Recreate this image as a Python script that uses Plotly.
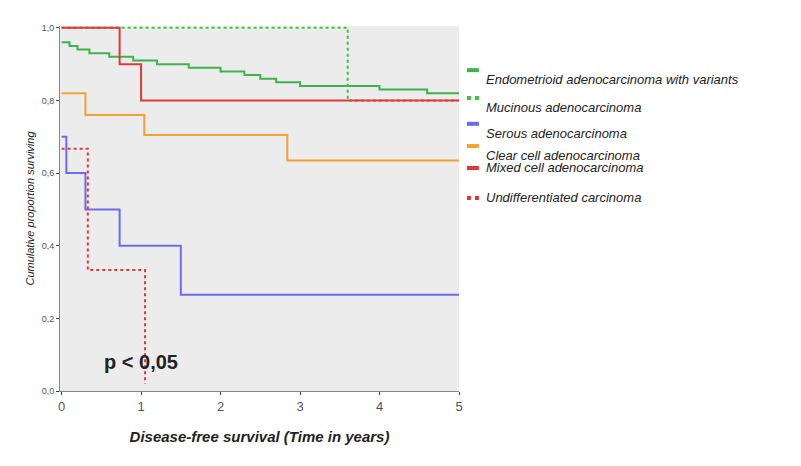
import plotly.graph_objects as go

# Kaplan-Meier step curves (time in years, survival proportion)
endo_t = [0, 0.1, 0.2, 0.35, 0.6, 0.9, 1.2, 1.6, 2.0, 2.3, 2.5, 2.7, 3.0, 4.0, 4.6, 5.0]
endo_s = [0.96, 0.95, 0.94, 0.93, 0.92, 0.91, 0.90, 0.89, 0.88, 0.87, 0.86, 0.85, 0.84, 0.83, 0.82, 0.82]
muc_t = [0, 3.6, 5.0]
muc_s = [1.0, 0.8, 0.8]
serous_t = [0, 0.06, 0.3, 0.73, 1.5, 5.0]
serous_s = [0.70, 0.60, 0.50, 0.40, 0.265, 0.265]
clear_t = [0, 0.3, 1.04, 2.84, 5.0]
clear_s = [0.82, 0.76, 0.705, 0.635, 0.635]
mixed_t = [0, 0.73, 1.0, 5.0]
mixed_s = [1.0, 0.9, 0.8, 0.8]
undiff_t = [0, 0.33, 1.05, 1.05]
undiff_s = [0.667, 0.333, 0.02, 0.02]

names = ["Endometrioid adenocarcinoma with variants", "Mucinous adenocarcinoma",
         "Serous adenocarcinoma", "Clear cell adenocarcinoma",
         "Mixed cell adenocarcinoma", "Undifferentiated carcinoma"]
colors = ["#3cb44b", "#3cc43c", "#6b6bf0", "#f5a030", "#e03838", "#e03838"]
dashes = ["solid", "dot", "solid", "solid", "solid", "dot"]
series = [(endo_t, endo_s), (muc_t, muc_s), (serous_t, serous_s),
          (clear_t, clear_s), (mixed_t, mixed_s), (undiff_t, undiff_s)]

fig = go.Figure()
for (t, s), c, d in zip(series, colors, dashes):
    fig.add_trace(go.Scatter(x=t, y=s, mode="lines", line=dict(color=c, width=2, dash=d, shape="hv"),
                             showlegend=False))

# legend drawn manually
leg_y = [0.879, 0.803, 0.732, 0.671, 0.611, 0.529]
for n, c, d, y in zip(names, colors, dashes, leg_y):
    fig.add_shape(type="line", xref="paper", yref="paper", x0=1.02, x1=1.05, y0=y, y1=y,
                  line=dict(color=c, width=4, dash=d))
    fig.add_annotation(text="<i>" + n + "</i>", xref="paper", yref="paper", x=1.063, y=y,
                       xanchor="left", showarrow=False,
                       font=dict(size=13, color="#222", family="Liberation Sans"))

fig.add_annotation(text="<b>p < 0,05</b>", x=1.0, y=0.08, showarrow=False,
                   font=dict(size=20, color="#222", family="Liberation Sans"))

fig.update_layout(
    width=801, height=466, separators=",.",
    margin=dict(l=52, r=350, t=18, b=83),
    plot_bgcolor="#ececec", paper_bgcolor="white",
    xaxis=dict(range=[-0.02, 5.0], tickvals=[0, 1, 2, 3, 4, 5], showgrid=False, zeroline=False,
               showline=True, linecolor="#888", ticks="outside", ticklen=3,
               tickfont=dict(size=13, color="#555", family="Liberation Sans"),
               title=dict(text="<b><i>Disease-free survival (Time in years)</i></b>",
                          font=dict(size=15, color="#222", family="Liberation Sans"), standoff=18)),
    yaxis=dict(range=[0, 1.005], tickvals=[0, 0.2, 0.4, 0.6, 0.8, 1.0], tickformat=".1f",
               showgrid=False, zeroline=False, showline=True, linecolor="#888",
               ticks="outside", ticklen=3,
               tickfont=dict(size=9, color="#555", family="Liberation Sans"),
               title=dict(text="<i>Cumulative proportion surviving</i>",
                          font=dict(size=11, color="#222", family="Liberation Sans"), standoff=4)),
)
fig.write_html("out.html")
